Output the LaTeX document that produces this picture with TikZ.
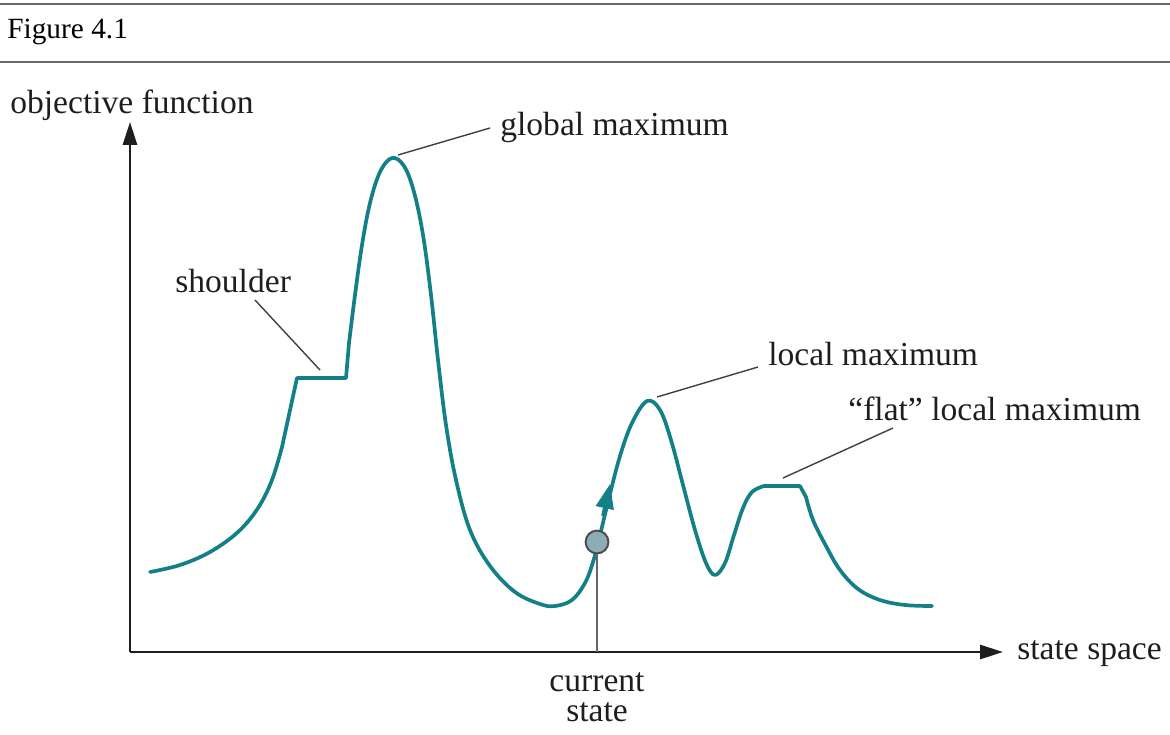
\documentclass[tikz,border=0pt]{standalone}
\usepackage{fontspec}
\setmainfont{Liberation Serif}
\usetikzlibrary{arrows.meta}
\definecolor{curvecol}{RGB}{18,128,134}
\definecolor{rulecol}{RGB}{105,105,105}
\definecolor{dotcol}{RGB}{140,172,182}
\definecolor{inkcol}{RGB}{30,30,30}
\begin{document}
\begin{tikzpicture}[x=0.02cm,y=-0.02cm,
  lbl/.style={font=\fontsize{19.1}{23}\selectfont, anchor=base west, inner sep=0pt, text=inkcol},
  clbl/.style={font=\fontsize{19.1}{17}\selectfont, align=center, anchor=base, inner sep=0pt, text=inkcol},
  hdr/.style={font=\fontsize{16.7}{20}\selectfont, anchor=base west, inner sep=0pt, text=black},
  hrule/.style={draw=rulecol, line width=1.2pt},
  axis/.style={draw=inkcol, line width=1.4pt, -{Triangle[length=13pt,width=8pt]}},
  landscape/.style={draw=curvecol, line width=2.1pt, line join=round, line cap=round},
  pointer/.style={draw=inkcol!85, line width=0.8pt},
  stateline/.style={draw=black!60, line width=1.1pt},
  statedot/.style={circle, draw=black!70, fill=dotcol, line width=1.1pt, minimum size=13pt, inner sep=0pt}
]
\useasboundingbox (0,0) rectangle (1170,734);

% header
\coordinate (hl1) at (0,4);
\coordinate (hr1) at (1170,4);
\coordinate (hl2) at (0,62);
\coordinate (hr2) at (1170,62);
\draw[hrule] (hl1) -- (hr1);
\draw[hrule] (hl2) -- (hr2);
\node[hdr] (fig) at (7,38) {Figure 4.1};

% axes
\coordinate (O) at (130,652);
\coordinate (ytip) at (130,122);
\coordinate (xtip) at (1003,652);
\draw[axis] (O) -- (ytip);
\draw[axis] (O) -- (xtip);
\node[lbl] (ylab) at (10,113) {objective function};
\node[lbl] (xlab) at (1017,659) {state space};

% landscape curve
\draw[landscape]
  plot[smooth, tension=0.6] coordinates {(150,572) (180,565) (210,552) (238,532) (258,508) (272,480) (282,447)}
  -- (297,378)
  -- (346,378)
  -- plot[smooth, tension=0.6] coordinates {(349,343) (355,295) (362,245) (370,203) (380,172) (392,158) (404,166) (414,192) (423,235) (431,295) (438,360) (446,425) (456,480) (470,530) (490,566) (515,592) (540,604) (555,606) (572,600) (585,583) (593,562) (600,535) (609,498) (620,456) (632,423) (647,401) (660,410) (671,440) (683,485) (695,530) (706,563) (715,575) (725,563) (734,535) (743,508) (752,492) (764,486)}
  -- (800,486)
  -- plot[smooth, tension=0.6] coordinates {(806,497) (813,520) (826,546) (840,570) (858,589) (880,600) (905,605) (932,606)};

% direction arrow on the curve
\coordinate (arrA) at (603,516);
\coordinate (arrB) at (610,484);
\draw[draw=curvecol, line width=2.1pt, -{Triangle[length=14pt,width=10pt]}] (arrA) -- (arrB);

% current state
\node[statedot] (cs) at (597,542) {};
\coordinate (csaxis) at (597,652);
\draw[stateline] (cs.south) -- (csaxis);
\node[clbl] (cur) at (597,721) {current\\state};

% labels with pointer lines
\node[lbl] (glob) at (500,135) {global maximum};
\coordinate (globA) at (398,155);
\coordinate (globB) at (490,128);
\draw[pointer] (globA) -- (globB);

\node[lbl] (shoul) at (175,292) {shoulder};
\coordinate (shA) at (255,300);
\coordinate (shB) at (320,370);
\draw[pointer] (shA) -- (shB);

\node[lbl] (loc) at (768,365) {local maximum};
\coordinate (locA) at (657,397);
\coordinate (locB) at (758,367);
\draw[pointer] (locA) -- (locB);

\node[lbl] (flat) at (848,420) {“flat” local maximum};
\coordinate (flA) at (783,478);
\coordinate (flB) at (893,428);
\draw[pointer] (flA) -- (flB);
\end{tikzpicture}
\end{document}
